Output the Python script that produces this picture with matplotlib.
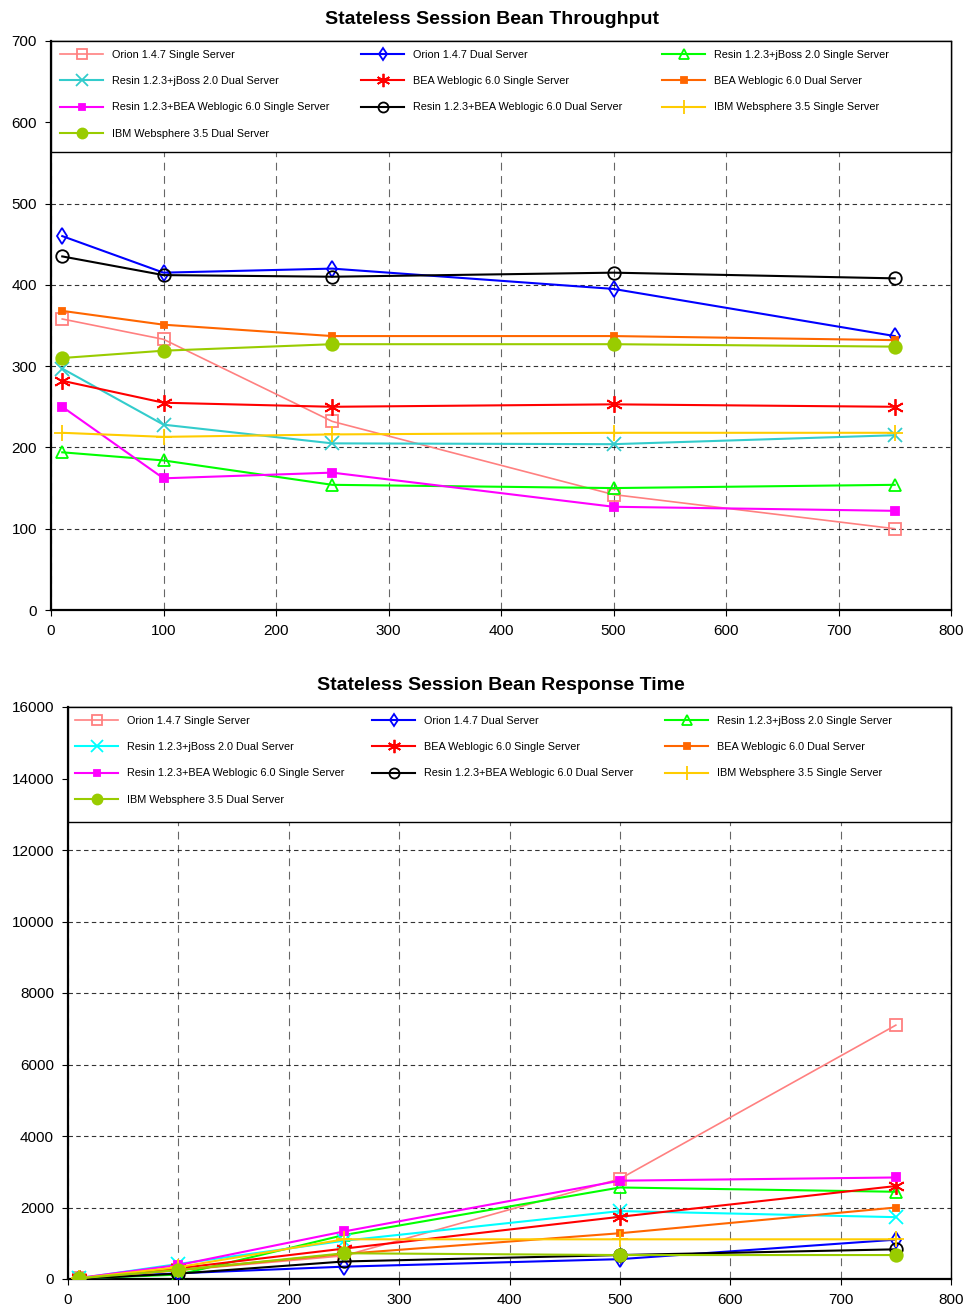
import matplotlib
matplotlib.use("Agg")
import matplotlib.pyplot as plt
from matplotlib.patches import Rectangle
from matplotlib.legend import Legend

plt.rcParams['font.family'] = ['Liberation Sans', 'DejaVu Sans']

clients = [10, 100, 250, 500, 750]

labels = [
    "Orion 1.4.7 Single Server",
    "Orion 1.4.7 Dual Server",
    "Resin 1.2.3+jBoss 2.0 Single Server",
    "Resin 1.2.3+jBoss 2.0 Dual Server",
    "BEA Weblogic 6.0 Single Server",
    "BEA Weblogic 6.0 Dual Server",
    "Resin 1.2.3+BEA Weblogic 6.0 Single Server",
    "Resin 1.2.3+BEA Weblogic 6.0 Dual Server",
    "IBM Websphere 3.5 Single Server",
    "IBM Websphere 3.5 Dual Server",
]

throughput_orion_single = [358, 333, 232, 142, 100]
throughput_orion_dual = [460, 415, 420, 395, 337]
throughput_resin_jboss_single = [194, 184, 154, 150, 154]
throughput_resin_jboss_dual = [297, 228, 205, 204, 215]
throughput_bea_single = [282, 255, 250, 253, 250]
throughput_bea_dual = [368, 351, 337, 337, 332]
throughput_resin_bea_single = [250, 162, 169, 127, 122]
throughput_resin_bea_dual = [435, 412, 410, 415, 408]
throughput_ibm_single = [218, 213, 216, 218, 218]
throughput_ibm_dual = [310, 319, 327, 327, 324]

resp_orion_single = [20, 240, 650, 2800, 7100]
resp_orion_dual = [10, 160, 345, 555, 1100]
resp_resin_jboss_single = [20, 120, 1230, 2560, 2440]
resp_resin_jboss_dual = [20, 420, 1070, 1900, 1730]
resp_bea_single = [20, 300, 850, 1740, 2600]
resp_bea_dual = [10, 250, 700, 1280, 2000]
resp_resin_bea_single = [30, 390, 1330, 2750, 2840]
resp_resin_bea_dual = [10, 150, 490, 670, 830]
resp_ibm_single = [20, 330, 1110, 1110, 1110]
resp_ibm_dual = [20, 250, 720, 670, 670]

throughput = [throughput_orion_single, throughput_orion_dual, throughput_resin_jboss_single,
              throughput_resin_jboss_dual, throughput_bea_single, throughput_bea_dual,
              throughput_resin_bea_single, throughput_resin_bea_dual, throughput_ibm_single,
              throughput_ibm_dual]
response = [resp_orion_single, resp_orion_dual, resp_resin_jboss_single,
            resp_resin_jboss_dual, resp_bea_single, resp_bea_dual,
            resp_resin_bea_single, resp_resin_bea_dual, resp_ibm_single, resp_ibm_dual]

# styles: (color, marker, markersize, filled)
styles_top = [
    ("#FF8080", "s", 9, False),
    ("#0000FF", "d", 8, False),
    ("#00FF00", "^", 9, False),
    ("#33CCCC", "x", 10, True),
    ("#FF0000", (6, 2, 0), 12, True),
    ("#FF6600", "s", 5, True),
    ("#FF00FF", "s", 6, True),
    ("#000000", "o", 9, False),
    ("#FFCC00", "+", 12, True),
    ("#99CC00", "o", 9, True),
]
styles_bot = list(styles_top)
styles_bot[3] = ("#00FFFF", "x", 10, True)

W, H = 968, 1309
fig = plt.figure(figsize=(W / 100, H / 100), dpi=100)

def make_axes(l, r, t, b):
    return fig.add_axes([l / W, (H - b) / H, (r - l) / W, (b - t) / H])

ax1 = make_axes(51, 951, 41, 610)
ax2 = make_axes(68, 951, 707, 1279)

columns = [[0, 3, 6, 9], [1, 4, 7], [2, 5, 8]]

def draw(ax, data, styles, ylim, yticks, title, leg_h_px, col_x_px, ax_w_px, ax_h_px):
    handles = []
    for vals, lab, (c, m, ms, filled) in zip(data, labels, styles):
        lw = 1.5
        if lab.startswith("Orion 1.4.7 Single"):
            lw = 1.2
        h, = ax.plot(clients, vals, color=c, lw=lw, marker=m, ms=ms,
                     mfc=(c if filled else "none"), mec=c, mew=1.3,
                     label=lab, zorder=3)
        handles.append(h)
    ax.set_xlim(0, 800)
    ax.set_ylim(*ylim)
    ax.set_xticks(range(0, 801, 100))
    ax.set_yticks(yticks)
    ax.tick_params(labelsize=11, length=4, width=0.8, direction="out", pad=6)
    ax.grid(True, axis="y", color="#000000", ls=(0, (4, 3)), lw=0.8, alpha=0.8)
    ax.grid(True, axis="x", color="#000000", ls=(0, (7, 5)), lw=0.8, alpha=0.6)
    ax.set_axisbelow(True)
    for name, s in ax.spines.items():
        s.set_color("black")
        s.set_linewidth(1.6 if name in ("left", "bottom") else 1.0)
    ax.set_title(title, fontsize=14, fontweight="bold", pad=12, x=0.49)
    # legend frame
    fh = leg_h_px / ax_h_px
    rect = Rectangle((0, 1 - fh), 1, fh, transform=ax.transAxes, facecolor="white",
                     edgecolor="black", lw=1.0, zorder=4, clip_on=False)
    ax.add_patch(rect)
    top = 1 - 9 / ax_h_px
    for ci, idxs in enumerate(columns):
        leg = Legend(ax, [handles[i] for i in idxs], [labels[i] for i in idxs],
                     loc="upper left", bbox_to_anchor=(col_x_px[ci] / ax_w_px, top),
                     bbox_transform=ax.transAxes,
                     fontsize=7.8, frameon=False, borderaxespad=0, borderpad=0,
                     handlelength=4.0, handletextpad=0.8, labelspacing=1.5,
                     markerscale=0.8)
        leg.set_zorder(5)
        ax.add_artist(leg)

draw(ax1, throughput, styles_top, (0, 700), range(0, 701, 100),
     "Stateless Session Bean Throughput", 111, [9, 310, 611], 900, 569)
draw(ax2, response, styles_bot, (0, 16000), range(0, 16001, 2000),
     "Stateless Session Bean Response Time", 115, [7, 304, 597], 883, 572)

fig.savefig("out.png", dpi=100)
